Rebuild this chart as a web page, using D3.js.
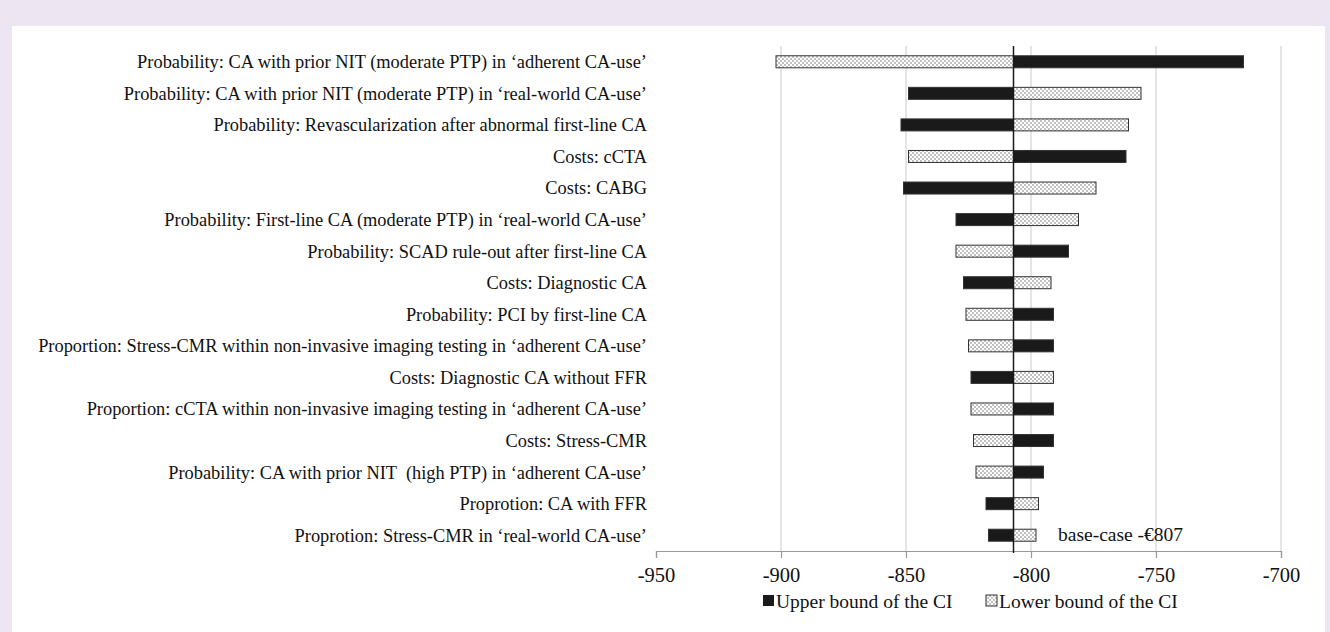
<!DOCTYPE html>
<html>
<head>
<meta charset="utf-8">
<script src="https://cdn.jsdelivr.net/npm/d3@7"></script>
<style>
  html, body { margin: 0; padding: 0; background: #ede6f2; }
  svg { display: block; }
  text { font-family: "Liberation Serif", "Times New Roman", serif; fill: #111; white-space: pre; }
</style>
</head>
<body>
<div id="chart"></div>
<script>
// tornado chart, values in euro
const params = [
  "Probability: CA with prior NIT (moderate PTP) in \u2018adherent CA-use\u2019",
  "Probability: CA with prior NIT (moderate PTP) in \u2018real-world CA-use\u2019",
  "Probability: Revascularization after abnormal first-line CA",
  "Costs: cCTA",
  "Costs: CABG",
  "Probability: First-line CA (moderate PTP) in \u2018real-world CA-use\u2019",
  "Probability: SCAD rule-out after first-line CA",
  "Costs: Diagnostic CA",
  "Probability: PCI by first-line CA",
  "Proportion: Stress-CMR within non-invasive imaging testing in \u2018adherent CA-use\u2019",
  "Costs: Diagnostic CA without FFR",
  "Proportion: cCTA within non-invasive imaging testing in \u2018adherent CA-use\u2019",
  "Costs: Stress-CMR",
  "Probability: CA with prior NIT  (high PTP) in \u2018adherent CA-use\u2019",
  "Proprotion: CA with FFR",
  "Proprotion: Stress-CMR in \u2018real-world CA-use\u2019"
];
const upperCI = [-715, -849, -852, -762, -851, -830, -785, -827, -791, -791, -824, -791, -791, -795, -818, -817];
const lowerCI = [-902, -756, -761, -849, -774, -781, -830, -792, -826, -825, -791, -824, -823, -822, -797, -798];
const baseCase = -807;
const xTicks = [-950, -900, -850, -800, -750, -700];

const W = 1330, H = 632;
const svg = d3.select("#chart").append("svg").attr("width", W).attr("height", H);

// white panel
svg.append("rect").attr("x", 12).attr("y", 26).attr("width", 1313).attr("height", H - 26).attr("fill", "#fff");

const defs = svg.append("defs");
const pat = defs.append("pattern").attr("id", "dots")
  .attr("patternUnits", "userSpaceOnUse").attr("width", 4).attr("height", 4);
pat.append("rect").attr("width", 4).attr("height", 4).attr("fill", "#fff");
pat.append("circle").attr("cx", 1).attr("cy", 1).attr("r", 0.7).attr("fill", "#555");
pat.append("circle").attr("cx", 3).attr("cy", 3).attr("r", 0.7).attr("fill", "#555");

const plotL = 656, plotR = 1281, plotT = 46, plotB = 551;

const x = d3.scaleLinear().domain([-950, -700]).range([plotL, plotR]);
const y = d3.scaleBand().domain(params).range([plotT, plotB]).paddingInner(0.62).paddingOuter(0.31);

// gridlines
svg.append("g").selectAll("line").data(xTicks.slice(1)).join("line")
  .attr("x1", d => x(d)).attr("x2", d => x(d))
  .attr("y1", plotT).attr("y2", plotB)
  .attr("stroke", "#d4d4d4").attr("stroke-width", 1.2);

// x axis
const xAxis = svg.append("g").attr("transform", `translate(0,${plotB})`)
  .call(d3.axisBottom(x).tickValues(xTicks).tickSize(7).tickPadding(9).tickFormat(d => String(d)));
xAxis.select(".domain").attr("stroke", "#999").attr("stroke-width", 1.2);
xAxis.selectAll(".tick line").attr("stroke", "#999").attr("stroke-width", 1.2);
xAxis.selectAll(".tick text").attr("font-size", 20.5).attr("fill", "#111")
  .attr("font-family", "Liberation Serif");

// bars
const rows = params.map((p, i) => ({ p, up: upperCI[i], lo: lowerCI[i] }));
const g = svg.append("g");
g.selectAll("rect.lo").data(rows).join("rect").attr("class", "lo")
  .attr("x", d => Math.min(x(d.lo), x(baseCase)))
  .attr("width", d => Math.abs(x(d.lo) - x(baseCase)))
  .attr("y", d => y(d.p)).attr("height", y.bandwidth())
  .attr("fill", "url(#dots)").attr("stroke", "#333").attr("stroke-width", 1);
g.selectAll("rect.up").data(rows).join("rect").attr("class", "up")
  .attr("x", d => Math.min(x(d.up), x(baseCase)))
  .attr("width", d => Math.abs(x(d.up) - x(baseCase)))
  .attr("y", d => y(d.p)).attr("height", y.bandwidth())
  .attr("fill", "#1a1a1a").attr("stroke", "#333").attr("stroke-width", 1);

// base case line
svg.append("line").attr("x1", x(baseCase)).attr("x2", x(baseCase))
  .attr("y1", plotT).attr("y2", plotB + 2)
  .attr("stroke", "#1a1a1a").attr("stroke-width", 1.5);

// row labels
svg.append("g").selectAll("text").data(params).join("text")
  .attr("x", 647).attr("y", d => y(d) + y.bandwidth() / 2)
  .attr("dy", "0.35em").attr("text-anchor", "end").attr("font-size", 18.4)
  .text(d => d);

svg.append("text").attr("x", 1058).attr("y", 534).attr("dy", "0.35em")
  .attr("font-size", 19.5).text("base-case -\u20ac807");

// legend
const leg = svg.append("g").attr("transform", "translate(763,601)");
leg.append("rect").attr("x", 0).attr("y", -6).attr("width", 11).attr("height", 11).attr("fill", "#1a1a1a");
leg.append("text").attr("x", 13).attr("dy", "0.35em").attr("font-size", 19.5).text("Upper bound of the CI");
leg.append("rect").attr("x", 223).attr("y", -6).attr("width", 11).attr("height", 11)
  .attr("fill", "url(#dots)").attr("stroke", "#333");
leg.append("text").attr("x", 236).attr("dy", "0.35em").attr("font-size", 19.5).text("Lower bound of the CI");
</script>
</body>
</html>
